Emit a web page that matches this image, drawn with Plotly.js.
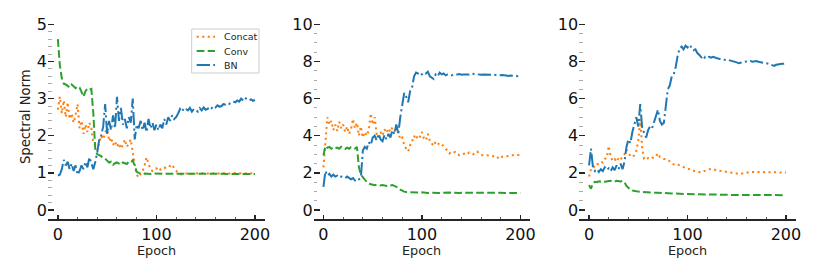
<!DOCTYPE html>
<html>
<head>
<meta charset="utf-8">
<script src="https://cdn.plot.ly/plotly-3.0.1.min.js"></script>
<style>html,body{margin:0;padding:0;background:#fff;}#chart{width:822px;height:274px;}</style>
</head>
<body>
<div id="chart"></div>
<script>
// ---------------- data ----------------
const seriesNames = ["Concat", "Conv", "BN"];
const epochs = [0,2,4,6,8,10,12,14,16,18,20,22,24,26,28,30,32,34,36,38,40,42,44,46,48,50,52,54,56,58,60,62,64,66,68,70,72,74,76,78,80,82,84,86,88,90,92,94,96,98,100,102,104,106,108,110,112,114,116,118,120,122,124,126,128,130,132,134,136,138,140,142,144,146,148,150,152,154,156,158,160,162,164,166,168,170,172,174,176,178,180,182,184,186,188,190,192,194,196,198,200];
const xTickVals = [0, 100, 200];
const xTitle = "Epoch";
const yTitle = "Spectral Norm";

// Panel 1
const p1Concat = [2.7,3.05,2.6,2.95,2.5,2.9,2.45,2.6,2.35,2.55,2.85,2.2,2.4,2.05,2.3,2.1,2.35,2.2,1.8,1.75,1.62,1.85,2.0,1.9,2.05,2.25,1.85,1.95,1.75,1.85,1.7,1.8,1.65,1.75,1.9,1.7,1.8,1.9,1.55,1.2,0.95,0.88,0.95,1.05,1.2,1.42,1.25,1.1,1.05,1.08,1.12,1.05,1.1,1.13,1.12,1.15,1.2,1.18,1.22,1.12,1.05,1.0,0.97,0.96,0.98,0.97,0.98,0.99,0.97,0.98,1.0,0.98,0.97,0.99,0.98,0.97,0.98,1.0,0.99,0.97,0.98,0.99,0.98,0.97,0.99,0.98,0.97,0.98,1.0,0.99,0.98,0.97,0.98,0.99,1.0,0.99,0.98,0.99,1.0,0.99,0.98];
const p1Conv = [4.6,3.9,3.55,3.4,3.38,3.35,3.3,3.38,3.32,3.28,3.33,3.3,3.18,3.05,3.2,3.27,3.24,3.26,2.6,1.6,1.5,1.48,1.45,1.4,1.38,1.33,1.28,1.3,1.22,1.26,1.28,1.25,1.22,1.28,1.25,1.24,1.3,1.28,1.34,1.15,1.03,1.0,0.98,0.97,0.98,0.97,0.98,0.97,0.98,0.98,0.97,0.98,0.97,0.98,0.97,0.97,0.98,0.97,0.96,0.97,0.97,0.96,0.97,0.97,0.96,0.97,0.97,0.96,0.97,0.97,0.97,0.96,0.97,0.97,0.96,0.97,0.97,0.96,0.97,0.97,0.96,0.97,0.97,0.96,0.97,0.97,0.96,0.97,0.97,0.96,0.97,0.97,0.96,0.97,0.97,0.96,0.97,0.97,0.96,0.97,0.97];
const p1BN = [0.93,0.95,1.1,1.35,1.2,1.3,1.1,1.25,1.05,1.2,0.95,1.05,1.2,1.1,1.3,1.15,1.42,1.25,1.1,1.3,1.55,1.9,2.0,2.25,2.85,2.05,2.4,2.15,2.55,2.2,3.05,2.4,2.75,2.3,2.45,2.2,2.5,2.35,3.0,1.9,2.3,2.2,2.4,2.15,2.35,2.1,2.45,2.2,2.35,2.15,2.3,2.15,2.3,2.2,2.45,2.3,2.5,2.4,2.55,2.45,2.5,2.6,2.72,2.65,2.75,2.72,2.68,2.75,2.65,2.72,2.7,2.65,2.74,2.68,2.76,2.7,2.72,2.78,2.74,2.8,2.76,2.82,2.78,2.8,2.85,2.84,2.88,2.86,2.9,2.92,2.9,2.95,2.92,3.0,2.95,3.02,2.97,2.95,2.98,2.94,2.96];

// Panel 2
const p2Concat = [2.3,3.6,5.0,4.6,4.8,4.3,4.6,4.25,4.75,4.4,4.6,4.2,4.5,4.1,4.35,4.9,4.4,4.7,4.0,4.5,3.9,4.2,4.0,4.3,5.2,4.6,5.0,4.1,3.9,4.2,4.0,4.35,4.15,4.4,4.2,4.45,4.3,4.1,4.2,3.8,3.9,3.5,3.3,3.15,3.5,3.7,4.0,3.8,4.05,3.95,4.2,3.85,3.75,4.1,3.7,3.6,3.45,3.7,3.6,3.5,3.55,3.4,3.3,3.2,3.05,3.15,3.1,3.12,3.0,2.95,2.95,3.02,3.05,3.0,3.1,3.05,3.0,3.1,3.15,3.05,2.97,2.95,2.96,2.95,2.93,2.9,2.9,2.92,2.9,2.75,2.8,2.88,2.87,2.9,2.93,2.95,2.95,2.97,2.96,2.96,2.96];
const p2Conv = [2.95,3.45,3.35,3.4,3.3,3.38,3.32,3.36,3.3,3.4,3.33,3.28,3.36,3.3,3.38,3.32,3.3,3.4,2.3,1.9,1.75,1.6,1.5,1.42,1.38,1.35,1.33,1.36,1.34,1.32,1.35,1.33,1.3,1.34,1.32,1.35,1.3,1.28,1.2,1.1,1.03,0.99,0.97,0.96,0.95,0.96,0.94,0.95,0.93,0.94,0.95,0.93,0.94,0.92,0.94,0.93,0.95,0.93,0.94,0.92,0.93,0.94,0.93,0.92,0.94,0.93,0.92,0.93,0.94,0.92,0.93,0.93,0.92,0.94,0.93,0.92,0.93,0.92,0.94,0.93,0.92,0.93,0.92,0.93,0.94,0.92,0.93,0.92,0.93,0.92,0.94,0.93,0.92,0.93,0.92,0.93,0.92,0.93,0.92,0.93,0.92];
const p2BN = [1.25,2.1,1.85,1.95,1.8,1.9,1.8,1.85,1.75,1.8,1.78,1.72,1.8,1.7,1.65,1.72,1.6,1.7,1.65,1.75,3.2,3.4,3.3,3.65,3.5,3.9,4.0,3.75,4.1,3.8,3.7,4.05,3.8,4.1,3.9,4.3,4.1,4.6,4.1,5.0,5.7,6.3,6.1,5.8,6.4,6.6,7.2,7.4,7.35,7.42,7.3,7.4,7.35,7.45,7.2,7.1,7.05,7.3,7.2,7.4,7.3,7.35,7.25,7.3,7.28,7.25,7.3,7.28,7.3,7.32,7.28,7.3,7.3,7.28,7.3,7.35,7.33,7.35,7.32,7.3,7.28,7.3,7.3,7.28,7.3,7.28,7.27,7.28,7.25,7.27,7.25,7.27,7.25,7.23,7.22,7.24,7.22,7.2,7.22,7.2,7.2];

// Panel 3
const p3Concat = [1.8,2.2,2.35,2.3,2.45,2.5,2.6,2.55,2.75,2.8,3.45,2.85,2.65,2.75,2.6,2.8,2.7,2.9,3.0,3.25,3.1,2.9,2.85,2.95,3.2,3.7,4.9,3.3,2.75,2.7,2.8,2.75,2.82,2.8,2.9,3.05,2.85,2.8,2.75,2.75,2.7,2.62,2.5,2.45,2.42,2.45,2.4,2.35,2.3,2.25,2.22,2.2,2.15,2.13,2.08,2.05,2.04,2.03,2.08,2.12,2.15,2.2,2.22,2.2,2.15,2.12,2.12,2.1,2.08,2.05,2.03,2.02,2.0,1.98,1.96,1.95,1.95,1.95,1.96,1.98,2.0,2.03,2.05,2.06,2.05,2.04,2.05,2.06,2.05,2.04,2.03,2.04,2.05,2.04,2.03,2.03,2.04,2.03,2.02,2.02,2.02];
const p3Conv = [1.35,1.15,1.45,1.52,1.5,1.55,1.53,1.56,1.52,1.55,1.54,1.57,1.55,1.53,1.58,1.55,1.54,1.57,1.5,1.3,1.18,1.1,1.05,1.02,1.0,0.99,0.98,0.97,0.96,0.96,0.95,0.95,0.94,0.94,0.93,0.93,0.92,0.92,0.91,0.91,0.9,0.9,0.89,0.89,0.88,0.88,0.87,0.87,0.87,0.86,0.86,0.86,0.85,0.85,0.85,0.85,0.84,0.84,0.84,0.84,0.83,0.83,0.83,0.83,0.83,0.82,0.82,0.82,0.82,0.82,0.82,0.81,0.81,0.81,0.81,0.81,0.81,0.81,0.8,0.8,0.8,0.8,0.8,0.8,0.8,0.8,0.8,0.8,0.8,0.8,0.8,0.8,0.8,0.8,0.8,0.8,0.8,0.8,0.8,0.8,0.8];
const p3BN = [2.4,3.3,2.3,2.1,2.2,2.05,2.2,2.1,2.3,2.15,2.25,2.1,2.3,2.15,2.4,2.2,2.5,2.2,2.6,3.4,3.8,3.6,4.2,4.6,5.0,4.5,5.7,4.4,4.1,3.9,4.3,4.5,4.4,4.7,5.1,5.4,4.8,4.6,4.7,5.8,6.5,6.7,7.2,7.3,7.7,8.3,8.7,8.8,8.65,8.85,8.75,8.9,8.75,8.6,8.65,8.45,8.35,8.2,8.1,8.25,8.2,8.25,8.2,8.25,8.2,8.17,8.15,8.1,8.12,8.08,8.05,8.07,8.05,8.0,7.98,7.95,7.9,7.93,7.95,7.98,8.0,8.0,8.02,7.98,8.0,8.02,7.98,7.95,7.92,7.9,7.9,7.88,7.85,7.78,7.76,7.82,7.85,7.86,7.88,7.88,7.9];

// ---------------- styling ----------------
const colors = { Concat: "#ff7f0e", Conv: "#2ca02c", BN: "#1f77b4" };
const dashes = { Concat: "2.1px,3.4px", Conv: "7.7px,3.3px", BN: "13.3px,3.3px,2.1px,3.3px" };
const FONT = "DejaVu Sans, sans-serif";
const W = 822, H = 274;
const px = v => v / W;
const py = v => (H - v) / H;

const panels = [
  { data: [p1Concat, p1Conv, p1BN], left: 48, right: 264.8, range: [-0.25, 5.25], dtick: 1, minorStep: 0.2, top: 5 },
  { data: [p2Concat, p2Conv, p2BN], left: 313.6, right: 530.3, range: [-0.5, 10.5], dtick: 2, minorStep: 0.5, top: 10 },
  { data: [p3Concat, p3Conv, p3BN], left: 579.2, right: 795.8, range: [-0.5, 10.5], dtick: 2, minorStep: 0.5, top: 10 }
];

const traces = [];
const layout = {
  width: W, height: H,
  margin: { l: 0, r: 0, t: 0, b: 0 },
  paper_bgcolor: "#fff", plot_bgcolor: "rgba(0,0,0,0)",
  showlegend: false,
  font: { family: FONT, color: "#1a1a1a" },
  shapes: [], annotations: []
};

const yDom = [py(219.3), py(15)];

panels.forEach((p, i) => {
  const n = i + 1;
  const xa = n === 1 ? "x" : "x" + n;
  const ya = n === 1 ? "y" : "y" + n;
  p.data.forEach((vals, k) => {
    const name = seriesNames[k];
    traces.push({
      type: "scatter", mode: "lines", name: name,
      x: epochs, y: vals, xaxis: xa, yaxis: ya,
      line: { color: colors[name], width: 2, dash: dashes[name] },
      hoverinfo: "skip"
    });
  });
  const minorVals = [];
  for (let t = p.minorStep; t < p.top - 1e-9; t += p.minorStep) {
    if (Math.abs(t / p.dtick - Math.round(t / p.dtick)) > 1e-6) minorVals.push(+t.toFixed(3));
  }
  layout["xaxis" + (n === 1 ? "" : n)] = {
    domain: [px(p.left), px(p.right)], anchor: ya,
    range: [-10, 210], tickmode: "array", tickvals: xTickVals,
    showgrid: false, zeroline: false,
    showline: true, linecolor: "#262626", linewidth: 1.3,
    ticks: "inside", ticklen: 4.5, tickwidth: 1.3, tickcolor: "#262626",
    tickfont: { family: FONT, size: 16, color: "#111" },
    minor: { tickmode: "linear", tick0: 0, dtick: 20, ticks: "inside", ticklen: 2.5, tickwidth: 1, tickcolor: "#555", showgrid: false }
  };
  layout["yaxis" + (n === 1 ? "" : n)] = {
    domain: yDom, anchor: xa,
    range: p.range, tickmode: "linear", tick0: 0, dtick: p.dtick,
    showgrid: false, zeroline: false, showline: false,
    ticks: "inside", ticklen: 6, tickwidth: 1.3, tickcolor: "#262626",
    tickfont: { family: FONT, size: 16, color: "#111" },
    minor: { tickmode: "array", tickvals: minorVals, ticks: "inside", ticklen: 3.5, tickwidth: 1, tickcolor: "#aaaaaa", showgrid: false }
  };
  // x-axis title ("Epoch") placed like the reference
  layout.annotations.push({
    xref: "paper", yref: "paper", x: px((p.left + p.right) / 2), y: py(250.5),
    xanchor: "center", yanchor: "middle", showarrow: false,
    text: xTitle, font: { family: FONT, size: 12.8, color: "#222" }
  });
});

// y-axis title
layout.annotations.push({
  xref: "paper", yref: "paper", x: px(25), y: py(117),
  xanchor: "center", yanchor: "middle", showarrow: false, textangle: -90,
  text: yTitle, font: { family: FONT, size: 13.2, color: "#222" }
});

// manual legend (matplotlib style) in panel 1
layout.shapes.push({
  type: "rect", xref: "paper", yref: "paper",
  x0: px(191.7), x1: px(259), y0: py(73), y1: py(29),
  line: { color: "#cccccc", width: 1 }, fillcolor: "rgba(255,255,255,0.8)", layer: "above"
});
const legendRows = [36.7, 51, 65];
seriesNames.forEach((name, k) => {
  layout.shapes.push({
    type: "line", xref: "paper", yref: "paper",
    x0: px(196.7), x1: px(215), y0: py(legendRows[k]), y1: py(legendRows[k]),
    line: { color: colors[name], width: 2, dash: dashes[name] }, layer: "above"
  });
  layout.annotations.push({
    xref: "paper", yref: "paper", x: px(222.3), y: py(legendRows[k]),
    xanchor: "left", yanchor: "middle", showarrow: false,
    text: name, font: { family: FONT, size: 9.5, color: "#262626" }
  });
});

Plotly.newPlot("chart", traces, layout, { staticPlot: true, displayModeBar: false });
</script>
</body>
</html>
